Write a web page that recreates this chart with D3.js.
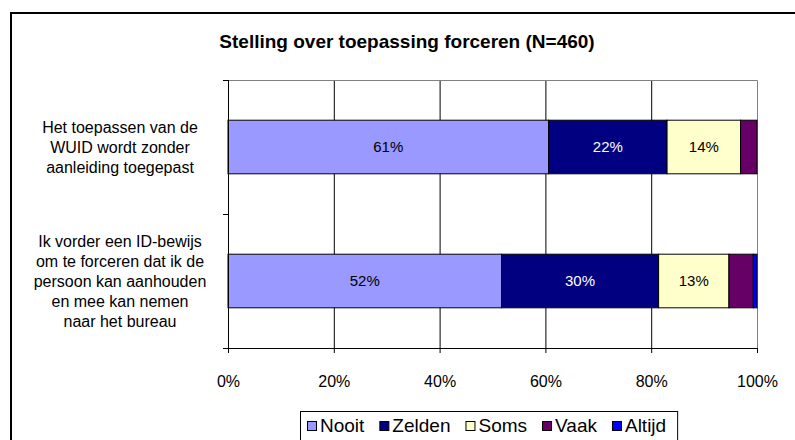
<!DOCTYPE html>
<html>
<head>
<meta charset="utf-8">
<script src="https://cdn.jsdelivr.net/npm/d3@7/dist/d3.min.js"></script>
<style>
body { margin: 0; background: #fff; }
svg { display: block; font-family: "Liberation Sans", Arial, sans-serif; }
</style>
</head>
<body>
<svg width="795" height="440"></svg>
<script>
// data (percent of respondents)
var categories = [
    "Het toepassen van de\nWUID wordt zonder\naanleiding toegepast",
    "Ik vorder een ID-bewijs\nom te forceren dat ik de\npersoon kan aanhouden\nen mee kan nemen\nnaar het bureau"
];
var seriesNames = ["Nooit", "Zelden", "Soms", "Vaak", "Altijd"];
var nooit  = [60.6, 51.7];
var zelden = [22.4, 29.7];
var soms   = [13.9, 13.3];
var vaak   = [3.1, 4.6];
var altijd = [0, 0.7];
var xTicks = [0, 20, 40, 60, 80, 100];

var colors = ["#9999ff", "#000080", "#ffffcc", "#660066", "#0000ff"];
var labelColors = ["#000", "#fff", "#000", "#fff", "#fff"];

var svg = d3.select("svg");
var pLeft = 228, pRight = 757, pTop = 80, pBottom = 348;

var rows = categories.map(function(c, i) {
    return {cat: c, Nooit: nooit[i], Zelden: zelden[i], Soms: soms[i], Vaak: vaak[i], Altijd: altijd[i]};
});
var stacked = d3.stack().keys(seriesNames)(rows);

var x = d3.scaleLinear().domain([0, 100]).range([pLeft, pRight]);
var y = d3.scaleBand().domain(categories).range([pTop, pBottom])
    .paddingInner(0.6).paddingOuter(0.3);

// outer chart border
svg.append("rect")
    .attr("x", 11).attr("y", 13).attr("width", 800).attr("height", 450)
    .attr("fill", "none").attr("stroke", "#000").attr("stroke-width", 2);

svg.append("text")
    .attr("x", 407).attr("y", 48)
    .attr("text-anchor", "middle")
    .attr("font-size", "19px").attr("font-weight", "bold")
    .text("Stelling over toepassing forceren (N=460)");

// gridlines + plot border
svg.append("g").selectAll("line")
    .data(xTicks.filter(function(d) { return d > 0 && d < 100; }))
    .enter().append("line")
    .attr("x1", function(d) { return x(d) + 0.5; }).attr("x2", function(d) { return x(d) + 0.5; })
    .attr("y1", pTop).attr("y2", pBottom)
    .attr("stroke", "#000");
svg.append("path")
    .attr("d", "M" + pLeft + "," + (pTop + 0.5) + "H" + (pRight + 0.5) + "V" + pBottom)
    .attr("fill", "none").attr("stroke", "#808080");

// bars
var layer = svg.append("g").selectAll("g")
    .data(stacked).enter().append("g")
    .attr("fill", function(d, i) { return colors[i]; });

layer.selectAll("rect")
    .data(function(d) { return d; })
    .enter().append("rect")
    .attr("x", function(d) { return x(d[0]); })
    .attr("y", function(d) { return y(d.data.cat); })
    .attr("width", function(d) { return x(d[1]) - x(d[0]); })
    .attr("height", y.bandwidth())
    .attr("stroke", "#000").attr("stroke-width", 1);

layer.selectAll("text")
    .data(function(d, i) { return d.map(function(p) { return {p: p, i: i}; }); })
    .enter().filter(function(d) { return d.p[1] - d.p[0] >= 10; })
    .append("text")
    .attr("x", function(d) { return (x(d.p[0]) + x(d.p[1])) / 2; })
    .attr("y", function(d) { return y(d.p.data.cat) + y.bandwidth() / 2; })
    .attr("dy", "0.35em")
    .attr("text-anchor", "middle")
    .attr("font-size", "15px")
    .attr("fill", function(d) { return labelColors[d.i]; })
    .text(function(d) { return Math.round(d.p[1] - d.p[0]) + "%"; });

// x axis
var xAxis = svg.append("g")
    .attr("transform", "translate(0," + pBottom + ")")
    .call(d3.axisBottom(x).tickValues(xTicks).tickSize(5).tickPadding(23)
        .tickFormat(function(d) { return d + "%"; }));
xAxis.select(".domain").attr("stroke", "#000");
xAxis.selectAll(".tick line").attr("stroke", "#000");
xAxis.selectAll("text").attr("font-size", "16px").attr("font-family", null).attr("fill", "#000");

// y axis: line with ticks on category boundaries
svg.append("line")
    .attr("x1", pLeft + 0.5).attr("x2", pLeft + 0.5).attr("y1", pTop).attr("y2", pBottom)
    .attr("stroke", "#000");
var step = y.step();
svg.append("g").selectAll("line")
    .data(d3.range(categories.length + 1))
    .enter().append("line")
    .attr("x1", pLeft - 5).attr("x2", pLeft)
    .attr("y1", function(d) { return pTop + d * step + 0.5; })
    .attr("y2", function(d) { return pTop + d * step + 0.5; })
    .attr("stroke", "#000");

var catText = svg.append("g").selectAll("text")
    .data(categories).enter().append("text")
    .attr("text-anchor", "middle")
    .attr("font-size", "16px")
    .attr("fill", "#000");
catText.each(function(c) {
    var lines = c.split("\n");
    var cy = y(c) + y.bandwidth() / 2;
    d3.select(this).selectAll("tspan")
        .data(lines).enter().append("tspan")
        .attr("x", 120)
        .attr("y", function(l, i) { return cy + (i - (lines.length - 1) / 2) * 20; })
        .attr("dy", "0.35em")
        .text(function(l) { return l; });
});

// legend
var legend = svg.append("g");
var legBox = legend.append("rect")
    .attr("y", 411.5).attr("height", 40)
    .attr("fill", "#fff").attr("stroke", "#000");
var lx = 307;
seriesNames.forEach(function(name, i) {
    legend.append("rect")
        .attr("x", lx + 0.5).attr("y", 421.5).attr("width", 9).attr("height", 9)
        .attr("fill", colors[i]).attr("stroke", "#000");
    var t = legend.append("text")
        .attr("x", lx + 13).attr("y", 432)
        .attr("font-size", "19px")
        .text(name);
    lx += 13 + t.node().getComputedTextLength() + 15;
});
legBox.attr("x", 300.5).attr("width", lx - 4 - 300);
</script>
</body>
</html>
